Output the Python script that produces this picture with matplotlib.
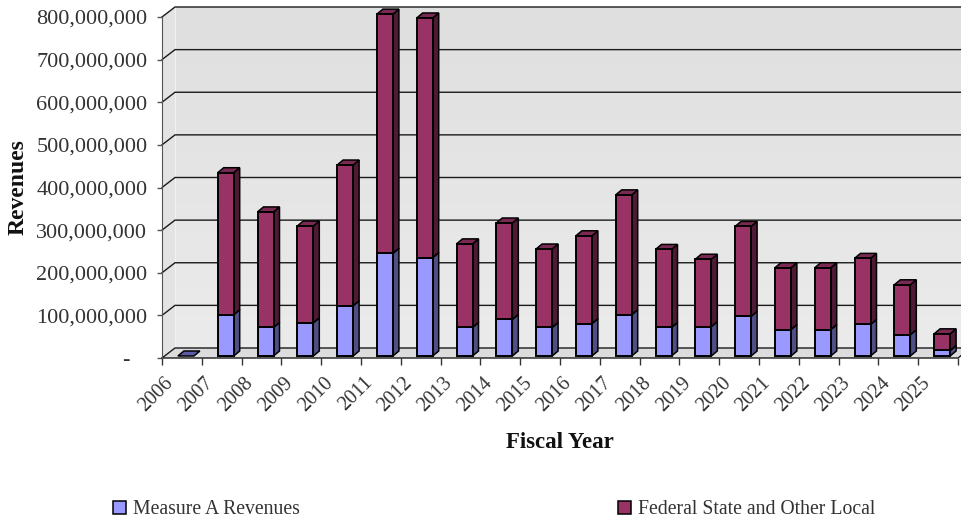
import numpy as np
import matplotlib
matplotlib.use('Agg')
import matplotlib.pyplot as plt
from matplotlib.patches import Polygon

plt.rcParams['font.family'] = ['Liberation Serif', 'DejaVu Serif']

years = list(range(2006, 2026))
measure_a = [0.5, 97, 67, 78, 118, 241, 231, 67, 86, 67, 76, 97, 67, 69, 93, 62, 62, 74, 50, 13]
totals = [0.5, 430, 338, 305, 448, 802, 793, 263, 312, 251, 282, 378, 250, 227, 304, 207, 207, 229, 167, 52]
y_ticks = [0, 100, 200, 300, 400, 500, 600, 700, 800]
y_labels = ['-   ', '100,000,000', '200,000,000', '300,000,000', '400,000,000',
            '500,000,000', '600,000,000', '700,000,000', '800,000,000']

W, H = 962, 521
fig = plt.figure(figsize=(W / 100, H / 100), dpi=100)
# front plane of the chart box, in pixels
left, right, bottom, top = 162, 958, 358, 17
ax = fig.add_axes([left / W, 1 - bottom / H, (right - left) / W, (bottom - top) / H])

# pixel sizes turned into data units
px_x = 20 / (right - left)
px_y = 800 / (bottom - top)
wall_dx, wall_dy = 13 * px_x, 10 * px_y
bar_dx, bar_dy = 6 * px_x, 5 * px_y
bar_w = 16 * px_x
bar_shift = 4 * px_x
base = 2 * px_y
x_end = 20 + wall_dx

# back wall, side wall and floor
grad = np.linspace(0, 1, 64).reshape(-1, 1)
wall_cmap = matplotlib.colors.LinearSegmentedColormap.from_list('w', ['#ebebeb', '#dfdfdf'])
ax.imshow(grad, extent=[wall_dx, x_end, wall_dy, 800 + wall_dy], cmap=wall_cmap,
          origin='lower', aspect='auto', clip_on=False, zorder=1)
ax.set_xlim(0, 20)
ax.set_ylim(0, 800)
ax.patch.set_visible(False)
ax.add_patch(Polygon([(0, 0), (wall_dx, wall_dy), (wall_dx, 800 + wall_dy), (0, 800)], closed=True,
                     fc='#e3e3e3', ec='none', clip_on=False, zorder=1.1))
ax.add_patch(Polygon([(0, 0), (wall_dx, wall_dy), (x_end, wall_dy), (20, 0)], closed=True,
                     fc='#dcdcdc', ec='none', clip_on=False, zorder=1.2))

# gridlines run along the side wall and the back wall
for v in y_ticks:
    ax.plot([0, wall_dx, x_end], [v, v + wall_dy, v + wall_dy], color='#1a1a1a', lw=1.0,
            clip_on=False, zorder=1.5, solid_joinstyle='miter')
ax.plot([wall_dx, wall_dx], [wall_dy, 800 + wall_dy], color='#f2f2f2', lw=0.8, clip_on=False, zorder=1.4)
ax.plot([0, 20, x_end], [0, 0, wall_dy], color='#1a1a1a', lw=1.0, clip_on=False, zorder=1.6)


def draw_box(x0, low, high, front, dark, top_col, z):
    x1 = x0 + bar_w
    ax.add_patch(Polygon([(x1, low), (x1 + bar_dx, low + bar_dy), (x1 + bar_dx, high + bar_dy), (x1, high)],
                         closed=True, fc=dark, ec='black', lw=1.1, clip_on=False, zorder=z))
    ax.add_patch(Polygon([(x0, high), (x0 + bar_dx, high + bar_dy), (x1 + bar_dx, high + bar_dy), (x1, high)],
                         closed=True, fc=top_col, ec='black', lw=1.1, clip_on=False, zorder=z))
    ax.add_patch(Polygon([(x0, low), (x1, low), (x1, high), (x0, high)],
                         closed=True, fc=front, ec='black', lw=1.4, clip_on=False, zorder=z + 0.1))


for i, (m, t) in enumerate(zip(measure_a, totals)):
    x0 = i + 0.5 + bar_shift - bar_w / 2
    z = 3 + i
    if i == 0:
        # first year is practically zero, only the flat top shows
        ax.add_patch(Polygon([(x0, base), (x0 + bar_w, base), (x0 + bar_w + bar_dx, base + bar_dy), (x0 + bar_dx, base + bar_dy)],
                             closed=True, fc='#5b5ba8', ec='black', lw=1.1, clip_on=False, zorder=z))
        continue
    draw_box(x0, base, base + m, '#9999ff', '#4f4f85', '#7777cc', z)
    draw_box(x0, base + m, base + t, '#993366', '#4f1a35', '#7a2952', z + 0.2)

for s in ['top', 'right', 'bottom']:
    ax.spines[s].set_visible(False)
ax.spines['left'].set_color('#555555')
ax.spines['left'].set_zorder(2)

ax.set_yticks(y_ticks)
ax.set_yticklabels(y_labels)
ax.tick_params(axis='y', length=3.5, width=1, color='#555555', pad=7, labelsize=16, labelcolor='#333333')
ax.set_xticks(range(0, 21))
ax.set_xticklabels([])
ax.set_xticks(np.arange(20) + 0.05, minor=True)
ax.set_xticklabels([str(y) for y in years], minor=True, rotation=45, ha='right', rotation_mode='anchor')
ax.tick_params(axis='x', which='major', length=5, width=1, color='#333333')
ax.tick_params(axis='x', which='minor', length=0, pad=11, labelsize=14.5, labelcolor='#333333')

fig.text(18 / W, 1 - 187 / H, 'Revenues', rotation=90, ha='center', va='center', fontsize=17, fontweight='bold', color='#111111')
fig.text(560 / W, 1 - 442 / H, 'Fiscal Year', ha='center', va='center', fontsize=16.5, fontweight='bold', color='#111111')

# legend
for x_sq, x_txt, col, label in [(113, 133, '#9999ff', 'Measure A Revenues'), (618, 638, '#993366', 'Federal State and Other Local')]:
    fig.patches.append(plt.Rectangle((x_sq / W, 1 - 514 / H), 13 / W, 13 / H, fc=col, ec='black', lw=1.1,
                                     transform=fig.transFigure))
    fig.text(x_txt / W, 1 - 509 / H, label, ha='left', va='center', fontsize=14.2, color='#333333')

fig.savefig('out.png', dpi=100)
